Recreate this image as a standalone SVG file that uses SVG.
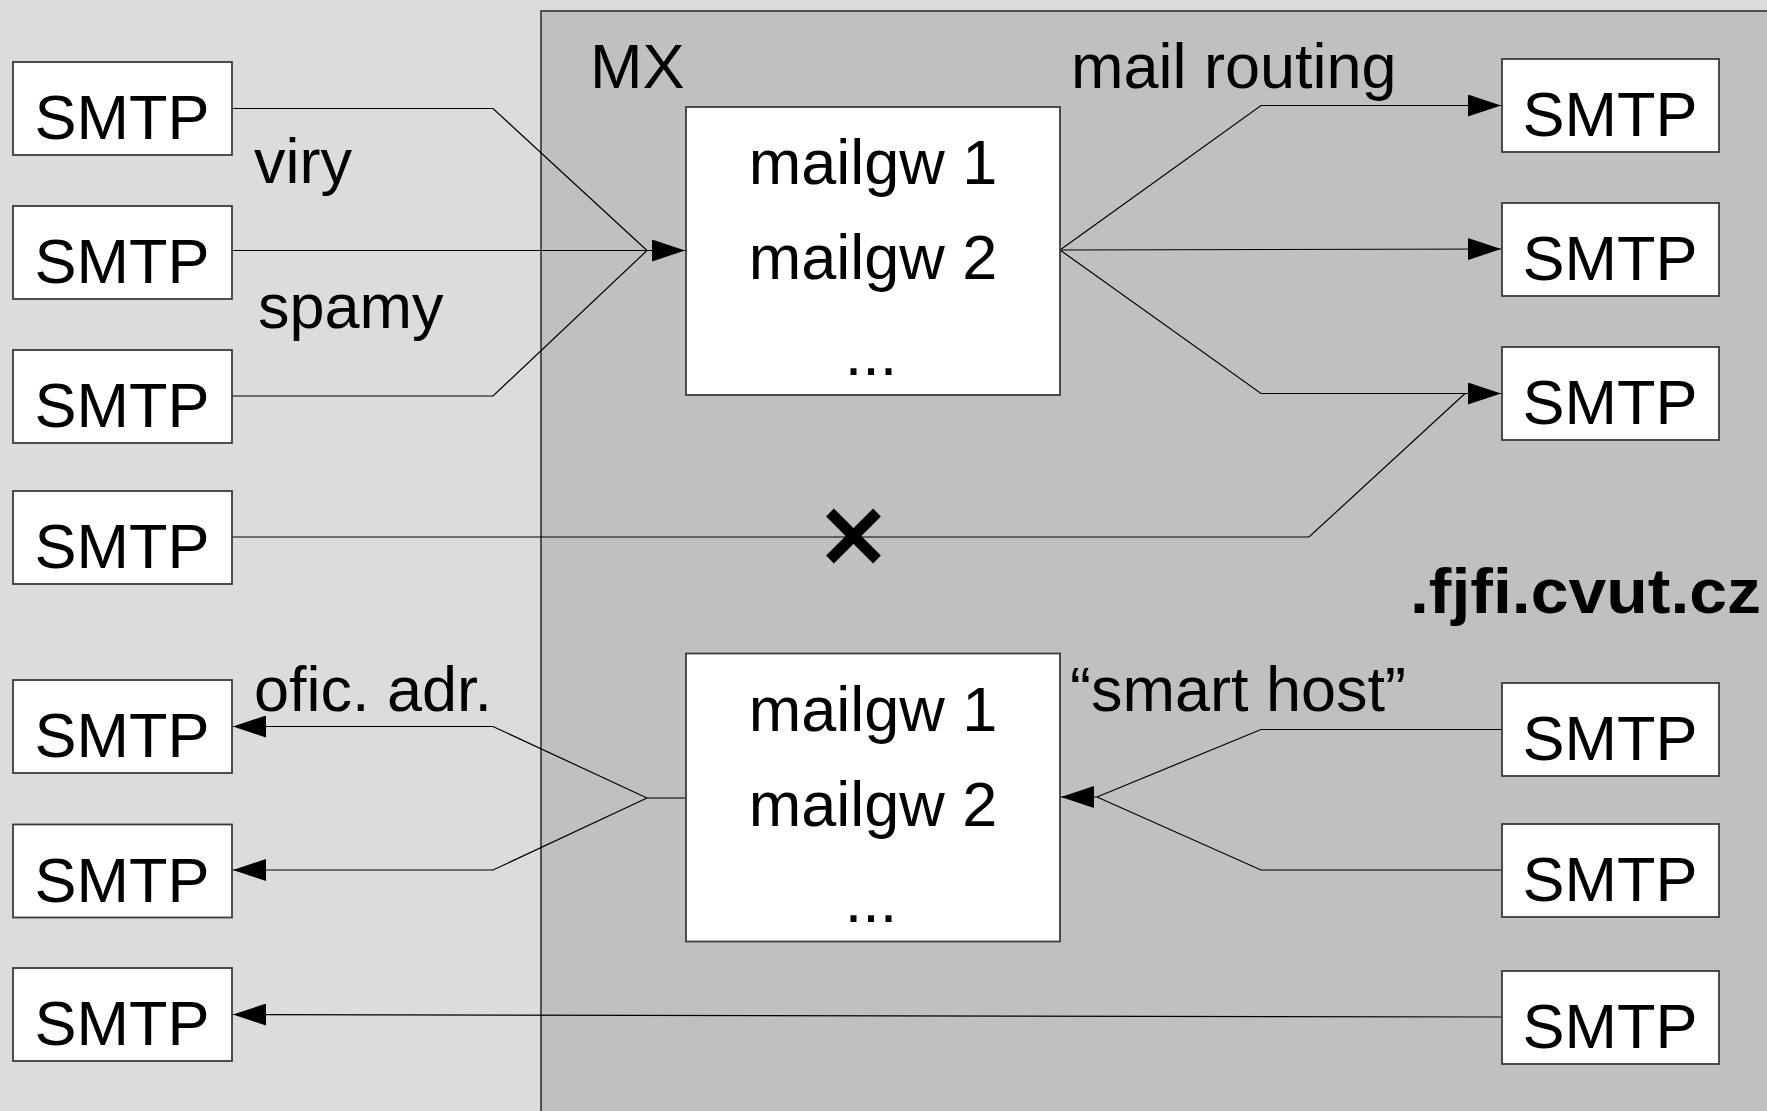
<svg xmlns="http://www.w3.org/2000/svg" width="1767" height="1111" viewBox="0 0 1767 1111">
  <style>
    .box { fill: #ffffff; stroke: #3c3c3c; stroke-width: 1.8; }
    .t { font-family: "Liberation Sans", Arial, sans-serif; font-size: 63px; fill: #000; }
    .c { text-anchor: middle; }
    .ln { fill: none; stroke: #000; stroke-width: 1.2; }
    .arr { fill: none; stroke: #000; stroke-width: 1.2; marker-end: url(#ah); }
  </style>
  <defs>
    <marker id="ah" viewBox="0 0 33 22" refX="33" refY="11" markerWidth="33" markerHeight="22" markerUnits="userSpaceOnUse" orient="auto">
      <path d="M0,0 L33,11 L0,22 Z" fill="#000"/>
    </marker>
  </defs>

  <!-- outside network background -->
  <rect x="0" y="0" width="1767" height="1111" fill="#dcdcdc"/>

  <!-- MX zone -->
  <g id="mx-zone">
    <rect x="541" y="11" width="1240" height="1120" fill="#c0c0c0" stroke="#444" stroke-width="1.8"/>
    <text class="t" x="590" y="88">MX</text>
    <text class="t" x="1410" y="613" font-weight="bold" font-size="68" textLength="351" lengthAdjust="spacingAndGlyphs">.fjfi.cvut.cz</text>
  </g>

  <!-- connectors -->
  <g id="connectors">
    <!-- incoming to MX -->
    <polyline class="ln" points="232,108.5 493,108.5 647,250.5"/>
    <polyline class="ln" points="232,396 493,396 647,250.5"/>
    <line class="arr" x1="232" y1="250.5" x2="685" y2="250.5"/>
    <!-- mail routing out of MX -->
    <polyline class="arr" points="1060,250 1261,105.5 1501,105.5"/>
    <line class="arr" x1="1060" y1="250" x2="1501" y2="249"/>
    <polyline class="arr" points="1060,250 1261,393.5 1501,393.5"/>
    <!-- direct delivery, blocked -->
    <polyline class="ln" points="232,537 1309,537 1465,393.5"/>
    <!-- outgoing from MX -->
    <polyline class="ln" points="686,798 647,798"/>
    <polyline class="arr" points="647,798 493,726.5 233,726.5"/>
    <polyline class="arr" points="647,798 493,870 233,870"/>
    <!-- smart host -->
    <polyline class="arr" points="1502,729.5 1261,729.5 1097,797 1061,797"/>
    <polyline class="ln" points="1502,870 1261,870 1097,797"/>
    <!-- direct outgoing -->
    <line class="arr" x1="1502" y1="1017" x2="233" y2="1014.5"/>
    <!-- block mark -->
    <g stroke="#000" stroke-width="11" stroke-linecap="butt">
      <line x1="830" y1="512.5" x2="877" y2="559.5"/>
      <line x1="877" y1="512.5" x2="830" y2="559.5"/>
    </g>
  </g>

  <!-- edge labels -->
  <g id="labels">
    <text class="t" x="254" y="183">viry</text>
    <text class="t" x="258" y="328">spamy</text>
    <text class="t" x="1071" y="88">mail routing</text>
    <text class="t" x="254" y="711">ofic. adr.</text>
    <text class="t" x="1070" y="711">“smart host”</text>
  </g>

  <!-- gateways -->
  <g id="mailgw-in">
    <rect class="box" x="686" y="107" width="374" height="288"/>
    <text class="t c" x="873" y="184">mailgw 1</text>
    <text class="t c" x="873" y="279">mailgw 2</text>
    <text class="t c" x="871" y="375">...</text>
  </g>
  <g id="mailgw-out">
    <rect class="box" x="686" y="653.5" width="374" height="288"/>
    <text class="t c" x="873" y="731">mailgw 1</text>
    <text class="t c" x="873" y="826">mailgw 2</text>
    <text class="t c" x="871" y="922">...</text>
  </g>

  <!-- left SMTP servers -->
  <g id="smtp-l1"><rect class="box" x="13" y="62" width="219" height="93"/><text class="t c" x="122" y="139">SMTP</text></g>
  <g id="smtp-l2"><rect class="box" x="13" y="206" width="219" height="93"/><text class="t c" x="122" y="283">SMTP</text></g>
  <g id="smtp-l3"><rect class="box" x="13" y="350" width="219" height="93"/><text class="t c" x="122" y="427">SMTP</text></g>
  <g id="smtp-l4"><rect class="box" x="13" y="491" width="219" height="93"/><text class="t c" x="122" y="568">SMTP</text></g>
  <g id="smtp-l5"><rect class="box" x="13" y="680" width="219" height="93"/><text class="t c" x="122" y="757">SMTP</text></g>
  <g id="smtp-l6"><rect class="box" x="13" y="824.5" width="219" height="93"/><text class="t c" x="122" y="901.5">SMTP</text></g>
  <g id="smtp-l7"><rect class="box" x="13" y="968" width="219" height="93"/><text class="t c" x="122" y="1045">SMTP</text></g>

  <!-- right SMTP servers -->
  <g id="smtp-r1"><rect class="box" x="1502" y="59" width="217" height="93"/><text class="t c" x="1610" y="136">SMTP</text></g>
  <g id="smtp-r2"><rect class="box" x="1502" y="203" width="217" height="93"/><text class="t c" x="1610" y="280">SMTP</text></g>
  <g id="smtp-r3"><rect class="box" x="1502" y="347" width="217" height="93"/><text class="t c" x="1610" y="424">SMTP</text></g>
  <g id="smtp-r4"><rect class="box" x="1502" y="683" width="217" height="93"/><text class="t c" x="1610" y="760">SMTP</text></g>
  <g id="smtp-r5"><rect class="box" x="1502" y="824" width="217" height="93"/><text class="t c" x="1610" y="901">SMTP</text></g>
  <g id="smtp-r6"><rect class="box" x="1502" y="971" width="217" height="93"/><text class="t c" x="1610" y="1048">SMTP</text></g>
</svg>
